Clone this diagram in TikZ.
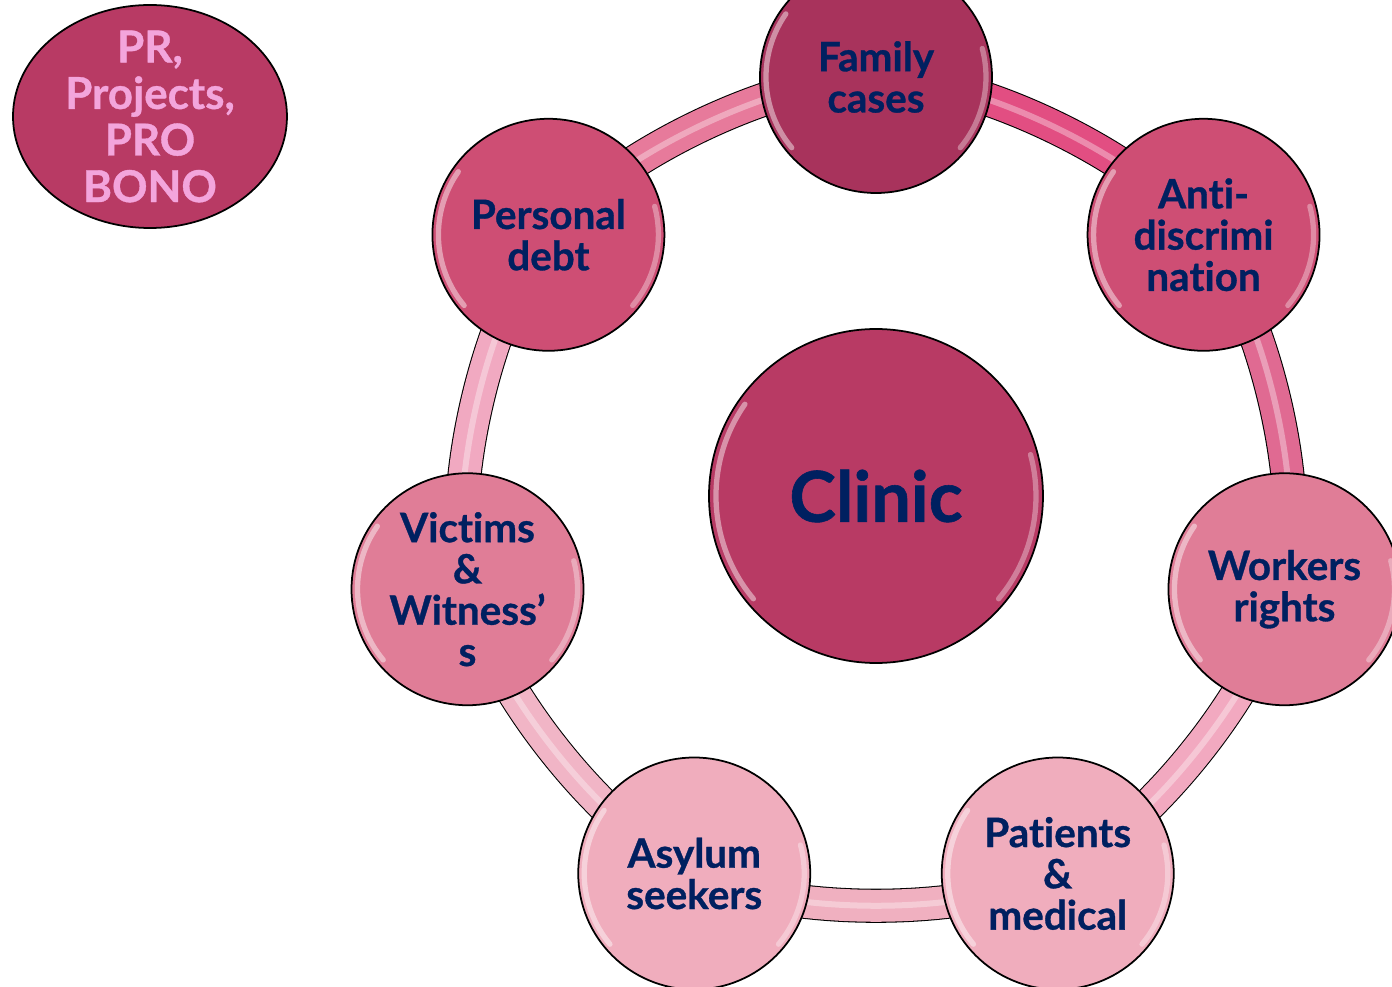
\documentclass[tikz,border=0pt]{standalone}
\usepackage{fontspec}
\setmainfont{Lato}[Ligatures={NoCommon, NoRare, NoDiscretionary, NoContextual}, Contextuals=NoAlternate, BoldFeatures={FakeBold=0.8}]
\usetikzlibrary{positioning, backgrounds, shapes.geometric}
\usepackage{xcolor}

\definecolor{navy}{HTML}{002060}
\definecolor{prtext}{HTML}{F3A5DC}
\definecolor{hubfill}{HTML}{B83A64}
\definecolor{famfill}{HTML}{A8335C}
\definecolor{deepfill}{HTML}{CE4E74}
\definecolor{midfill}{HTML}{E07D97}
\definecolor{palefill}{HTML}{F0ADBD}
\definecolor{ringA}{HTML}{E24E82}
\definecolor{ringB}{HTML}{E06A92}
\definecolor{ringC}{HTML}{F2A9C0}
\definecolor{ringD}{HTML}{F0B0C0}
\definecolor{ringE}{HTML}{F1B5C6}
\definecolor{ringF}{HTML}{F1A9C1}
\definecolor{ringG}{HTML}{E77A9B}

\tikzset{
	glint/.style={path picture={
		\draw[white, opacity=.45, line width=3pt, line cap=round]
		(path picture bounding box.center) ++(145:#1) arc[start angle=145, end angle=220, radius=#1];
		\draw[white, opacity=.35, line width=3pt, line cap=round]
		(path picture bounding box.center) ++(-40:#1) arc[start angle=-40, end angle=15, radius=#1];
	}},
	topic/.style={circle, draw=black, line width=1pt, minimum size=4.64cm, inner sep=0pt,
		align=center, text=navy, font=\fontsize{23}{23.5}\selectfont\bfseries, glint=2.2cm},
	hub/.style={circle, draw=black, line width=1pt, minimum size=6.68cm, inner sep=0pt,
		fill=hubfill, text=navy, font=\fontsize{40}{42}\selectfont\bfseries, glint=3.2cm},
	band/.style={line width=0.6pt, draw=black, double=#1, double distance=0.64cm},
	stripe/.style={draw=white, opacity=.35, line width=0.12cm}
}

\begin{document}
\begin{tikzpicture}
	\useasboundingbox (-17.52,-9.82) rectangle (10.32,9.92);
	
	\node[hub] (clinic) at (0,0) {Clinic};
	
	\node[topic, fill=famfill] (family) at (90:8.38) {Family\\cases};
	\node[topic, fill=deepfill] (anti) at (38.57:8.38) {Anti-\\discrimi\\nation};
	\node[topic, fill=midfill] (workers) at (-12.86:8.38) {Workers\\rights};
	\node[topic, fill=palefill] (patients) at (-64.29:8.38) {Patients\\\&\\medical};
	\node[topic, fill=palefill] (asylum) at (-115.71:8.38) {Asylum\\seekers};
	\node[topic, fill=midfill] (victims) at (-167.14:8.38) {Victims\\\&\\Witness’\\s};
	\node[topic, fill=deepfill] (debt) at (141.43:8.38) {Personal\\debt};
	
	\node[ellipse, draw=black, line width=1pt, fill=hubfill, minimum width=5.48cm, minimum height=4.46cm,
		inner sep=-0.5cm, align=center, text=prtext, font=\fontsize{25}{26.5}\selectfont\bfseries]
		(pr) at (-14.52,7.59) {PR,\\Projects,\\PRO\\BONO};
	
	% ring behind the circles
	\begin{scope}[on background layer]
		\foreach \a/\b/\col in {family/anti/ringA, anti/workers/ringB, workers/patients/ringC,
			patients/asylum/ringD, asylum/victims/ringE, victims/debt/ringF, debt/family/ringG}
		{
			\draw[band=\col] (\a.center) to[bend left=25.7, looseness=0.7] (\b.center);
			\draw[stripe] (\a.center) to[bend left=25.7, looseness=0.7] (\b.center);
		}
	\end{scope}
\end{tikzpicture}
\end{document}
